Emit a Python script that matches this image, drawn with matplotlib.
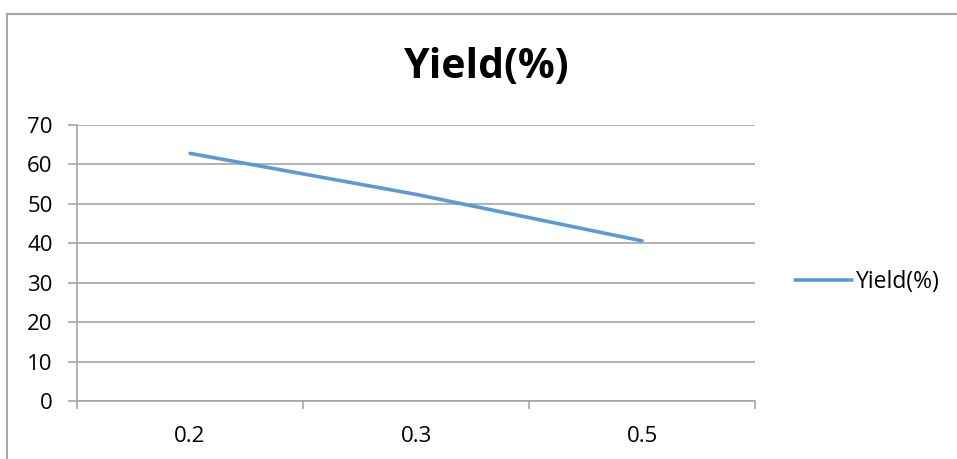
import matplotlib
matplotlib.use('Agg')
import matplotlib.pyplot as plt
from matplotlib.lines import Line2D

plt.rcParams['font.family'] = ['Open Sans', 'DejaVu Sans']

# 데이터
categories = ['0.2', '0.3', '0.5']
yield_values = [62.8, 52.4, 40.6]
y_ticks = [0, 10, 20, 30, 40, 50, 60, 70]

line_color = '#5b9bd5'
grid_color = '#a6a6a6'

fig = plt.figure(figsize=(9.57, 4.59), dpi=100)
ax = fig.add_axes([0.0805, 0.1264, 0.7085, 0.6013])

x_pos = list(range(len(categories)))
ax.plot(x_pos, yield_values, color=line_color, linewidth=2.6,
        solid_capstyle='round', label='Yield(%)', zorder=3)

# 축 범위와 눈금
ax.set_xlim(-0.5, len(categories) - 0.5)
ax.set_ylim(0, 70)
ax.set_yticks(y_ticks)
ax.yaxis.grid(True, color=grid_color, linewidth=1.2)
ax.set_axisbelow(True)

# x축: 경계에 눈금, 가운데에 라벨
ax.set_xticks([i - 0.5 for i in range(len(categories) + 1)])
ax.set_xticklabels([])
ax.set_xticks(x_pos, minor=True)
ax.set_xticklabels(categories, minor=True)
ax.tick_params(axis='x', which='major', direction='out', length=6,
               width=1.2, color=grid_color)
ax.tick_params(axis='x', which='minor', length=0, pad=18, labelsize=16)
ax.tick_params(axis='y', direction='out', length=6.5, width=1.2,
               color=grid_color, pad=11, labelsize=16)

for side in ['top', 'right']:
    ax.spines[side].set_visible(False)
for side in ['left', 'bottom']:
    ax.spines[side].set_color(grid_color)
    ax.spines[side].set_linewidth(1.2)

# 제목
fig.text(0.5086, 0.854, 'Yield(%)', ha='center', va='center',
         fontsize=29.5, fontweight='bold')

# 범례
ax.legend(loc='center left', bbox_to_anchor=(0.8307, 0.3856),
          bbox_transform=fig.transFigure, frameon=False, fontsize=16.5,
          handlelength=2.5, handletextpad=0.15, borderpad=0,
          borderaxespad=0)

# 차트 테두리
fig.add_artist(Line2D([7.5 / 957, 7.5 / 957], [0, 1 - 13.5 / 459],
                      transform=fig.transFigure, color=grid_color, linewidth=1.5))
fig.add_artist(Line2D([7.5 / 957, 1], [1 - 13.5 / 459, 1 - 13.5 / 459],
                      transform=fig.transFigure, color=grid_color, linewidth=1.5))

fig.savefig('out.png', dpi=100)
